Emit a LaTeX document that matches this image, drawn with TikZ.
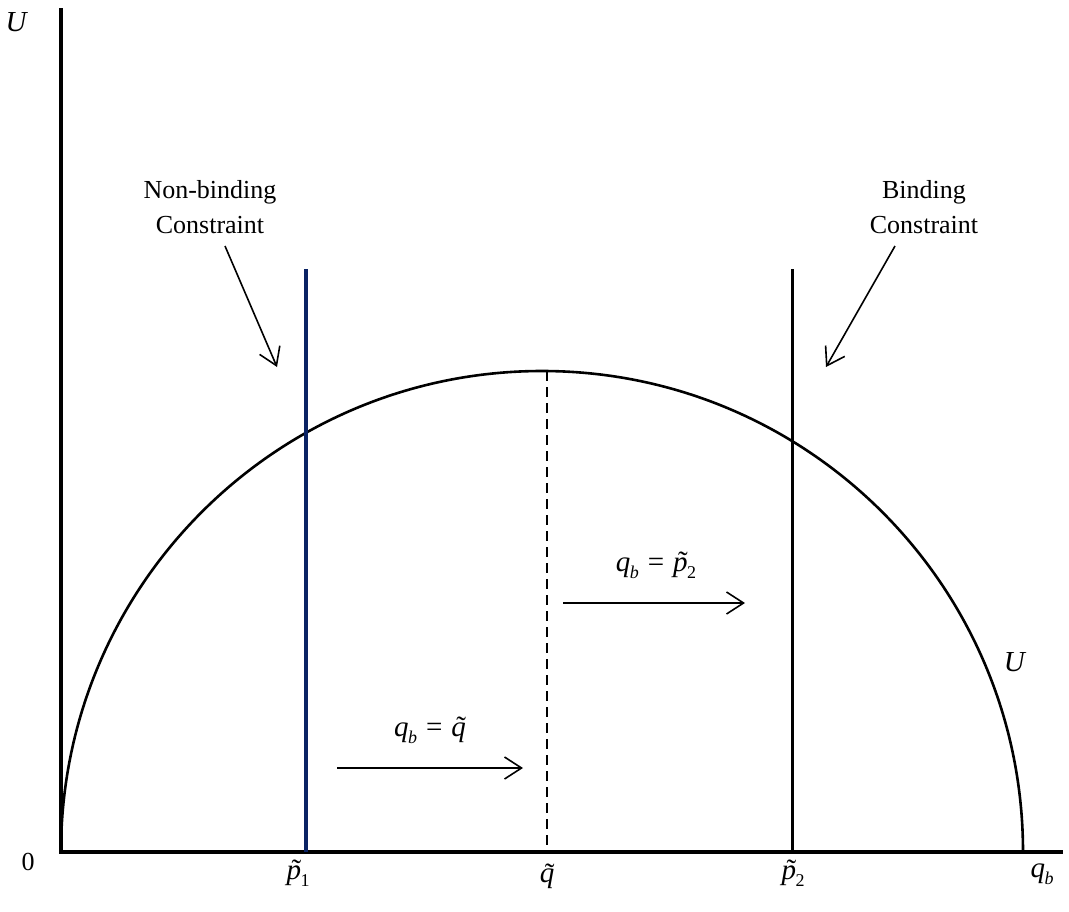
\documentclass[tikz,border=0pt]{standalone}
\usepackage{fontspec}
\setmainfont{Liberation Serif}
\usetikzlibrary{arrows.meta}
\definecolor{navyline}{RGB}{10,35,100}
\newcommand{\subsz}[1]{\raisebox{-0.55ex}{\fontsize{18}{18}\selectfont #1}}
\newcommand{\tld}[1]{\ooalign{#1\cr\hidewidth\kern0.18em\raisebox{-0.05ex}{\char"02DC}\hidewidth\cr}}
\newcommand{\qb}{\textit{q}\kern-0.5pt\subsz{\textit{b}}}
\newcommand{\ptl}[1]{\tld{\textit{p}}\kern-0.5pt\subsz{#1}}
\newcommand{\qtl}{\tld{\textit{q}}}
\newcommand{\eqsign}{\kern9pt=\kern9pt}

\begin{document}
\begin{tikzpicture}[x=1pt,y=-1pt,
    lbl/.style={font=\fontsize{26}{35}\selectfont},
    mlbl/.style={font=\fontsize{29}{35}\selectfont},
    pointer/.style={line width=1.6pt,-{Straight Barb[length=17pt,width=22pt,line width=1.6pt]}}]
\useasboundingbox (0,0) rectangle (1069,911);
% axes
\coordinate (O) at (61,852);
\coordinate (ytop) at (61,8);
\coordinate (xend) at (1063,852);
\draw[line width=3.2pt] (ytop) -- (O) -- (xend);
% utility curve
\draw[line width=2.6pt] (O) arc[start angle=180,end angle=360,radius=481];
% constraints
\coordinate (p1top) at (306,269);
\coordinate (p1bot) at (306,852);
\coordinate (p2top) at (792,269);
\coordinate (p2bot) at (792,852);
\draw[navyline,line width=3.4pt] (p1top) -- (p1bot);
\draw[line width=3pt] (p2top) -- (p2bot);
\coordinate (qtop) at (547,371);
\coordinate (qbot) at (547,852);
\draw[line width=1.5pt,dash pattern=on 10pt off 6pt] (qtop) -- (qbot);
% axis labels
\node[mlbl] (Ulab) at (17,22) {\textit{U}};
\node[lbl] (zero) at (28,862) {0};
\node[mlbl] (p1lab) at (298,876) {\ptl{1}};
\node[mlbl] (qlab) at (547,876) {\qtl};
\node[mlbl] (p2lab) at (793,876) {\ptl{2}};
\node[mlbl] (qblab) at (1042,874) {\qb};
\node[mlbl] (Ucurve) at (1015,662) {\textit{U}};
% constraint labels
\node[lbl,align=center] (nonbind) at (210,207) {Non-binding\\Constraint};
\node[lbl,align=center] (bind) at (924,207) {Binding\\Constraint};
\coordinate (nbhead) at (277,367);
\coordinate (bhead) at (826,367);
\draw[pointer] (225,246) -- (nbhead);
\draw[pointer] (895,246) -- (bhead);
% movement arrows
\node[mlbl] (move1) at (430,733) {\qb\eqsign\qtl};
\node[mlbl] (move2) at (656,568) {\qb\eqsign\ptl{2}};
\coordinate (m1a) at (337,768);
\coordinate (m1b) at (523,768);
\coordinate (m2a) at (563,603);
\coordinate (m2b) at (745,603);
\draw[pointer] (m1a) -- (m1b);
\draw[pointer] (m2a) -- (m2b);
\end{tikzpicture}
\end{document}
